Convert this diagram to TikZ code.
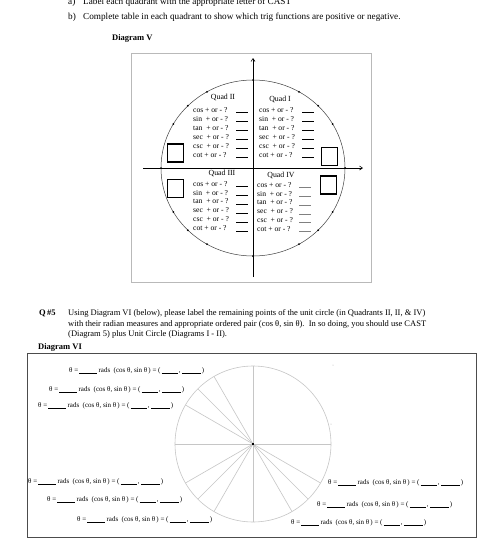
\documentclass[tikz,border=0pt]{standalone}
\usepackage{fontspec}
\setmainfont{Liberation Serif}
\usetikzlibrary{arrows.meta,calc}
\newcommand{\blnk}[1]{\rule[-0.7pt]{#1pt}{0.4pt}}
\newcommand{\thlab}{θ =\,\blnk{18}\,rads\hspace{3.5pt}(cos θ, sin θ\,) = (\,\blnk{16}\,,\,\blnk{19}\,)}
\begin{document}
\begin{tikzpicture}[x=1pt,y=-1pt,
  head/.style={anchor=base west, inner sep=0, font=\fontsize{9.2}{11}\selectfont},
  body/.style={anchor=base west, inner sep=0, font=\fontsize{8.5}{10}\selectfont},
  boldt/.style={anchor=base west, inner sep=0, font=\fontsize{8.5}{10}\selectfont\bfseries},
  qtxt/.style={anchor=mid west, inner sep=0, font=\fontsize{7.6}{9}\selectfont},
  qtitle/.style={anchor=mid, inner sep=0, font=\fontsize{7.8}{9}\selectfont},
  blankln/.style={line width=0.5pt},
  sq/.style={draw, line width=1.2pt, minimum width=16pt, minimum height=18pt, inner sep=0},
  dot/.style={circle, fill=black, inner sep=0, minimum size=2pt},
  axis/.style={line width=0.6pt, -{Straight Barb[length=3pt,width=4pt]}},
  vilab/.style={anchor=west, inner sep=0, font=\fontsize{7}{8}\selectfont},
  spoke/.style={draw=gray!45, line width=0.6pt}
]
\useasboundingbox (0,0) rectangle (491,541);
\fill[white] (0,0) rectangle (491,541);

% header text
\node[head] (a) at (68,4) {a)};
\node[head] (atxt) at (83,4) {Label each quadrant with the appropriate letter of CAST};
\node[head] (b) at (68,19) {b)};
\node[head] (btxt) at (83,19) {Complete table in each quadrant to show which trig functions are positive or negative.};
\node[boldt] (dv) at (112,40) {Diagram V};

% Diagram V
\draw[gray!55, line width=0.8pt] (131,53) rectangle (371,282);
\coordinate (C5) at (253,168);
\draw[gray!50!black, line width=0.5pt] (C5) ellipse [x radius=92, y radius=88];
\coordinate (xl) at (143,168);
\coordinate (xr) at (363,168);
\coordinate (yb) at (253,277);
\coordinate (yt) at (253,58);
\draw[axis] (xl) -- (xr);
\draw[axis] (yb) -- (yt);
\foreach \a [count=\i] in {0,30,45,60,90,120,135,150,180,210,225,240,270,300,315,330}
  \node[dot] (d\i) at ($(C5)+({92*cos(\a)},{-88*sin(\a)})$) {};

\node[sq] (s2) at (175.5,153) {};
\node[sq] (s1) at (329.3,156.2) {};
\node[sq] (s3) at (175.5,188.2) {};
\node[sq] (s4) at (328.7,185) {};

\node[qtitle] (t2) at (223,97) {Quad II};
\node[qtitle] (t1) at (280,99) {Quad I};
\node[qtitle] (t3) at (222,173) {Quad III};
\node[qtitle] (t4) at (281,175) {Quad IV};

\foreach \t [count=\i from 0] in {cos + or - ?,sin~ + or - ?,tan~ + or - ?,sec~ + or - ?,csc~ + or - ?,cot + or - ?}{
  \node[qtxt] (qa\i) at (193,{110+9*\i}) {\t};
  \draw[blankln] (236,{112.5+9*\i}) -- (248,{112.5+9*\i});
  \node[qtxt] (qb\i) at (259,{110+9*\i}) {\t};
  \draw[blankln] (302,{112.5+9*\i}) -- (314,{112.5+9*\i});
  \node[qtxt] (qc\i) at (193,{184+8.85*\i}) {\t};
  \draw[blankln] (236,{186.5+8.85*\i}) -- (248,{186.5+8.85*\i});
  \node[qtxt] (qd\i) at (257,{185+8.8*\i}) {\t};
  \draw[blankln, gray] (299,{187.5+8.8*\i}) -- (311,{187.5+8.8*\i});
}

% Q5 text
\node[boldt] (q5) at (39,315) {Q\,\#5};
\node[body] (l1) at (68,315) {Using Diagram VI (below), please label the remaining points of the unit circle (in Quadrants II, II, \& IV)};
\node[body] (l2) at (68,326) {with their radian measures and appropriate ordered pair (cos θ, sin θ).\ \ In so doing, you should use CAST};
\node[body] (l3) at (68,336.5) {(Diagram 5) plus Unit Circle (Diagrams I - II).};
\node[boldt] (dvi) at (38,349) {Diagram VI};

% Diagram VI
\draw[gray!60!black, line width=0.9pt] (27,353) rectangle (476,537);
\coordinate (C6) at (253,444);
\draw[spoke] (C6) circle [radius=78];
\coordinate (hl) at (175,444);
\coordinate (hr) at (331,444);
\coordinate (vt) at (253,366);
\coordinate (vb) at (253,522);
\draw[spoke] (hl) -- (hr);
\draw[spoke] (vt) -- (vb);
\foreach \a in {120,135,150,210,225,240,300,315,330}
  \draw[spoke] (C6) -- ++({78*cos(\a)},{-78*sin(\a)});
\fill[black] (251.8,442.8) rectangle (254.2,445.2);
\fill[gray!60] (333,365) circle [radius=0.5];
\fill[gray!60] (331,424) circle [radius=0.5];

\node[vilab] (v1) at (69,371) {\thlab};
\node[vilab] (v2) at (49,390) {\thlab};
\node[vilab] (v3) at (38,406) {\thlab};
\node[vilab] (v4) at (28,482) {\thlab};
\node[vilab] (v5) at (47,500) {\thlab};
\node[vilab] (v6) at (77,520) {\thlab};
\node[vilab] (v7) at (328,483) {\thlab};
\node[vilab] (v8) at (317,505) {\thlab};
\node[vilab] (v9) at (291,523) {\thlab};
\end{tikzpicture}
\end{document}
